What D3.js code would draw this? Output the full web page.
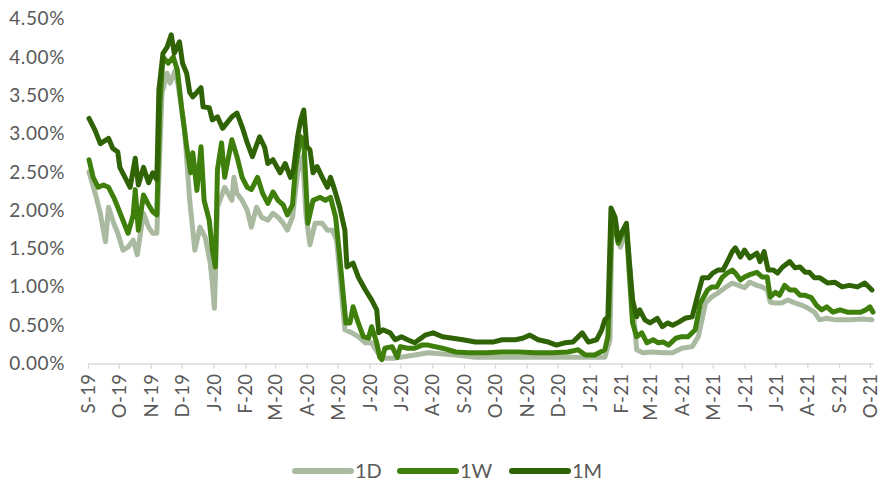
<!DOCTYPE html>
<html>
<head>
<meta charset="utf-8">
<script src="https://cdn.jsdelivr.net/npm/d3@7"></script>
<style>
  body { margin: 0; background: #fff; }
  svg text { font-family: Lato, "Open Sans", sans-serif; fill: #595959; }
</style>
</head>
<body>
<div id="chart"></div>
<script>

var seriesNames = ["1D", "1W", "1M"];
var seriesColors = ["#a9baa1", "#3f7f0c", "#2f6306"];

var tickLabels = ["S-19", "O-19", "N-19", "D-19", "J-20", "F-20", "M-20", "A-20", "M-20", "J-20", "J-20", "A-20",
    "S-20", "O-20", "N-20", "D-20", "J-21", "F-21", "M-21", "A-21", "M-21", "J-21", "J-21", "A-21", "S-21", "O-21"];
var tickStart = "2019-09-01";

var yTicks = [0, 0.5, 1, 1.5, 2, 2.5, 3, 3.5, 4, 4.5];

// values in %
var data1D = [
    ["2019-09-02", 2.50], ["2019-09-08", 2.22], ["2019-09-13", 1.96], ["2019-09-18", 1.59], ["2019-09-21", 2.04],
    ["2019-09-26", 1.83], ["2019-09-30", 1.70], ["2019-10-05", 1.48], ["2019-10-10", 1.52], ["2019-10-15", 1.61],
    ["2019-10-19", 1.42], ["2019-10-25", 1.96], ["2019-10-30", 1.78], ["2019-11-03", 1.70], ["2019-11-07", 1.70],
    ["2019-11-12", 3.53], ["2019-11-17", 3.79], ["2019-11-20", 3.66], ["2019-11-25", 3.83], ["2019-11-28", 3.61],
    ["2019-12-04", 3.05], ["2019-12-09", 2.13], ["2019-12-14", 1.48], ["2019-12-19", 1.78], ["2019-12-24", 1.65],
    ["2019-12-29", 1.31], ["2019-12-31", 1.05], ["2020-01-02", 0.72], ["2020-01-05", 2.04], ["2020-01-12", 2.30],
    ["2020-01-19", 2.13], ["2020-01-21", 2.43], ["2020-01-24", 2.22], ["2020-01-29", 2.13], ["2020-02-03", 2.00],
    ["2020-02-07", 1.78], ["2020-02-12", 2.04], ["2020-02-17", 1.91], ["2020-02-23", 1.87], ["2020-02-28", 1.96],
    ["2020-03-04", 1.91], ["2020-03-09", 1.83], ["2020-03-13", 1.74], ["2020-03-18", 1.91], ["2020-03-23", 2.49],
    ["2020-03-28", 2.70], ["2020-03-31", 1.96], ["2020-04-04", 1.55], ["2020-04-09", 1.83], ["2020-04-16", 1.83],
    ["2020-04-21", 1.74], ["2020-04-26", 1.74], ["2020-04-30", 1.61], ["2020-05-03", 1.18], ["2020-05-08", 0.44],
    ["2020-05-15", 0.40], ["2020-05-21", 0.35], ["2020-05-28", 0.27], ["2020-06-03", 0.27], ["2020-06-09", 0.14],
    ["2020-06-13", 0.07], ["2020-06-26", 0.07], ["2020-07-15", 0.11], ["2020-07-28", 0.14], ["2020-08-24", 0.11],
    ["2020-09-12", 0.08], ["2020-10-14", 0.08], ["2020-11-16", 0.08], ["2020-12-18", 0.08], ["2021-01-06", 0.08],
    ["2021-01-16", 0.08], ["2021-01-21", 0.31], ["2021-01-23", 1.87], ["2021-01-26", 1.74], ["2021-01-31", 1.52],
    ["2021-02-04", 1.65], ["2021-02-07", 1.61], ["2021-02-11", 0.96], ["2021-02-16", 0.18], ["2021-02-22", 0.14],
    ["2021-03-03", 0.15], ["2021-03-13", 0.14], ["2021-03-23", 0.14], ["2021-04-01", 0.20], ["2021-04-11", 0.22],
    ["2021-04-17", 0.35], ["2021-04-24", 0.79], ["2021-04-30", 0.87], ["2021-05-06", 0.92], ["2021-05-13", 0.99],
    ["2021-05-20", 1.05], ["2021-05-26", 1.02], ["2021-06-01", 0.99], ["2021-06-06", 1.06], ["2021-06-13", 1.02],
    ["2021-06-18", 1.00], ["2021-06-23", 0.96], ["2021-06-26", 0.80], ["2021-07-01", 0.79], ["2021-07-07", 0.79],
    ["2021-07-13", 0.83], ["2021-07-20", 0.79], ["2021-07-27", 0.76], ["2021-08-02", 0.72], ["2021-08-08", 0.67],
    ["2021-08-13", 0.57], ["2021-08-20", 0.59], ["2021-08-28", 0.57], ["2021-09-04", 0.57], ["2021-09-13", 0.57],
    ["2021-09-23", 0.58], ["2021-10-03", 0.57]
];

var data1W = [
    ["2019-09-02", 2.66], ["2019-09-06", 2.43], ["2019-09-11", 2.30], ["2019-09-16", 2.33], ["2019-09-21", 2.30],
    ["2019-09-26", 2.17], ["2019-09-30", 2.04], ["2019-10-05", 1.87], ["2019-10-10", 1.70], ["2019-10-15", 1.94],
    ["2019-10-17", 2.27], ["2019-10-20", 1.74], ["2019-10-25", 2.20], ["2019-10-30", 2.07], ["2019-11-03", 1.98],
    ["2019-11-07", 1.94], ["2019-11-10", 3.40], ["2019-11-13", 4.00], ["2019-11-18", 3.92], ["2019-11-23", 4.00],
    ["2019-11-27", 3.83], ["2019-12-01", 3.35], ["2019-12-06", 2.83], ["2019-12-10", 2.49], ["2019-12-12", 2.75],
    ["2019-12-16", 2.26], ["2019-12-20", 2.83], ["2019-12-23", 2.13], ["2019-12-28", 1.87], ["2019-12-31", 1.48],
    ["2020-01-03", 1.26], ["2020-01-05", 2.53], ["2020-01-09", 2.88], ["2020-01-12", 2.43], ["2020-01-19", 2.92],
    ["2020-01-24", 2.70], ["2020-01-29", 2.43], ["2020-02-03", 2.30], ["2020-02-07", 2.27], ["2020-02-13", 2.43],
    ["2020-02-18", 2.22], ["2020-02-23", 2.09], ["2020-02-28", 2.24], ["2020-03-04", 2.13], ["2020-03-09", 2.07],
    ["2020-03-13", 1.94], ["2020-03-18", 2.07], ["2020-03-21", 2.56], ["2020-03-26", 2.96], ["2020-03-29", 2.92],
    ["2020-04-02", 1.83], ["2020-04-07", 2.13], ["2020-04-14", 2.17], ["2020-04-19", 2.13], ["2020-04-24", 2.17],
    ["2020-04-29", 1.91], ["2020-05-03", 1.39], ["2020-05-06", 0.96], ["2020-05-09", 0.53], ["2020-05-13", 0.53],
    ["2020-05-16", 0.74], ["2020-05-21", 0.53], ["2020-05-26", 0.35], ["2020-05-31", 0.33], ["2020-06-03", 0.48],
    ["2020-06-08", 0.27], ["2020-06-11", 0.08], ["2020-06-13", 0.05], ["2020-06-16", 0.20], ["2020-06-23", 0.22],
    ["2020-06-28", 0.08], ["2020-07-01", 0.22], ["2020-07-08", 0.20], ["2020-07-15", 0.20], ["2020-07-22", 0.24],
    ["2020-07-28", 0.24], ["2020-08-11", 0.20], ["2020-08-24", 0.15], ["2020-09-05", 0.14], ["2020-09-22", 0.14],
    ["2020-10-08", 0.15], ["2020-10-24", 0.15], ["2020-11-09", 0.14], ["2020-11-26", 0.14], ["2020-12-11", 0.15],
    ["2020-12-21", 0.18], ["2020-12-28", 0.11], ["2021-01-06", 0.11], ["2021-01-16", 0.18], ["2021-01-19", 0.35],
    ["2021-01-23", 1.91], ["2021-01-26", 1.78], ["2021-01-29", 1.57], ["2021-02-02", 1.70], ["2021-02-06", 1.78],
    ["2021-02-09", 1.13], ["2021-02-12", 0.53], ["2021-02-16", 0.35], ["2021-02-21", 0.40], ["2021-02-26", 0.27],
    ["2021-03-04", 0.31], ["2021-03-09", 0.27], ["2021-03-14", 0.28], ["2021-03-19", 0.24], ["2021-03-26", 0.33],
    ["2021-04-01", 0.35], ["2021-04-07", 0.35], ["2021-04-14", 0.44], ["2021-04-19", 0.79], ["2021-04-26", 0.96],
    ["2021-04-30", 1.00], ["2021-05-05", 1.00], ["2021-05-10", 1.12], ["2021-05-15", 1.18], ["2021-05-20", 1.22],
    ["2021-05-23", 1.18], ["2021-05-28", 1.09], ["2021-06-01", 1.13], ["2021-06-06", 1.16], ["2021-06-13", 1.19],
    ["2021-06-18", 1.13], ["2021-06-23", 1.13], ["2021-06-26", 0.87], ["2021-07-01", 0.93], ["2021-07-05", 0.89],
    ["2021-07-10", 1.02], ["2021-07-15", 0.96], ["2021-07-20", 0.96], ["2021-07-25", 0.89], ["2021-07-30", 0.89],
    ["2021-08-05", 0.86], ["2021-08-10", 0.76], ["2021-08-15", 0.70], ["2021-08-20", 0.74], ["2021-08-26", 0.67],
    ["2021-09-02", 0.70], ["2021-09-09", 0.67], ["2021-09-15", 0.67], ["2021-09-22", 0.67], ["2021-09-27", 0.70],
    ["2021-10-01", 0.74], ["2021-10-04", 0.67]
];

var data1M = [
    ["2019-09-02", 3.20], ["2019-09-08", 3.04], ["2019-09-13", 2.87], ["2019-09-21", 2.94], ["2019-09-25", 2.81],
    ["2019-09-30", 2.76], ["2019-10-02", 2.56], ["2019-10-07", 2.43], ["2019-10-12", 2.30], ["2019-10-17", 2.68],
    ["2019-10-20", 2.33], ["2019-10-25", 2.56], ["2019-10-30", 2.36], ["2019-11-03", 2.49], ["2019-11-07", 2.40],
    ["2019-11-09", 3.57], ["2019-11-13", 4.05], ["2019-11-17", 4.13], ["2019-11-21", 4.29], ["2019-11-24", 4.05],
    ["2019-11-29", 4.20], ["2019-12-02", 3.92], ["2019-12-06", 3.79], ["2019-12-09", 3.54], ["2019-12-12", 3.48],
    ["2019-12-20", 3.60], ["2019-12-22", 3.35], ["2019-12-28", 3.34], ["2019-12-31", 3.18], ["2020-01-05", 3.22],
    ["2020-01-10", 3.07], ["2020-01-19", 3.22], ["2020-01-24", 3.27], ["2020-01-29", 3.09], ["2020-02-03", 2.88],
    ["2020-02-08", 2.70], ["2020-02-15", 2.96], ["2020-02-20", 2.82], ["2020-02-23", 2.61], ["2020-02-28", 2.66],
    ["2020-03-06", 2.49], ["2020-03-11", 2.61], ["2020-03-16", 2.43], ["2020-03-19", 2.53], ["2020-03-23", 2.96],
    ["2020-03-26", 3.18], ["2020-03-29", 3.31], ["2020-04-01", 2.83], ["2020-04-04", 2.79], ["2020-04-07", 2.49],
    ["2020-04-11", 2.57], ["2020-04-16", 2.43], ["2020-04-21", 2.30], ["2020-04-24", 2.43], ["2020-04-28", 2.27],
    ["2020-05-03", 2.04], ["2020-05-08", 1.74], ["2020-05-10", 1.26], ["2020-05-16", 1.31], ["2020-05-21", 1.13],
    ["2020-05-28", 0.96], ["2020-06-03", 0.83], ["2020-06-08", 0.70], ["2020-06-10", 0.40], ["2020-06-14", 0.44],
    ["2020-06-21", 0.40], ["2020-06-26", 0.31], ["2020-07-02", 0.35], ["2020-07-08", 0.31], ["2020-07-15", 0.27],
    ["2020-07-25", 0.37], ["2020-08-02", 0.40], ["2020-08-11", 0.35], ["2020-08-21", 0.33], ["2020-08-31", 0.31],
    ["2020-09-12", 0.28], ["2020-09-29", 0.28], ["2020-10-08", 0.31], ["2020-10-21", 0.31], ["2020-10-28", 0.33],
    ["2020-11-04", 0.37], ["2020-11-12", 0.31], ["2020-11-22", 0.28], ["2020-11-30", 0.24], ["2020-12-08", 0.27],
    ["2020-12-16", 0.28], ["2020-12-25", 0.40], ["2020-12-31", 0.28], ["2021-01-08", 0.31], ["2021-01-13", 0.44],
    ["2021-01-16", 0.57], ["2021-01-19", 0.61], ["2021-01-22", 2.03], ["2021-01-26", 1.91], ["2021-01-29", 1.61],
    ["2021-02-01", 1.70], ["2021-02-06", 1.83], ["2021-02-09", 1.31], ["2021-02-12", 0.83], ["2021-02-16", 0.61],
    ["2021-02-19", 0.70], ["2021-02-24", 0.57], ["2021-03-01", 0.53], ["2021-03-08", 0.59], ["2021-03-13", 0.48],
    ["2021-03-18", 0.53], ["2021-03-23", 0.50], ["2021-03-29", 0.54], ["2021-04-04", 0.59], ["2021-04-11", 0.61],
    ["2021-04-16", 0.87], ["2021-04-21", 1.12], ["2021-04-27", 1.12], ["2021-05-01", 1.18], ["2021-05-06", 1.22],
    ["2021-05-11", 1.22], ["2021-05-16", 1.35], ["2021-05-20", 1.46], ["2021-05-23", 1.51], ["2021-05-28", 1.39],
    ["2021-06-01", 1.48], ["2021-06-06", 1.38], ["2021-06-13", 1.44], ["2021-06-16", 1.33], ["2021-06-20", 1.46],
    ["2021-06-24", 1.22], ["2021-06-29", 1.22], ["2021-07-03", 1.18], ["2021-07-08", 1.26], ["2021-07-15", 1.33],
    ["2021-07-20", 1.25], ["2021-07-25", 1.26], ["2021-07-30", 1.19], ["2021-08-03", 1.19], ["2021-08-08", 1.12],
    ["2021-08-13", 1.12], ["2021-08-21", 1.05], ["2021-08-28", 1.06], ["2021-09-04", 1.00], ["2021-09-11", 1.02],
    ["2021-09-19", 1.00], ["2021-09-26", 1.05], ["2021-10-03", 0.96]
];

var allSeries = [data1D, data1W, data1M];


RateChart = function(container){

    var self = this;

    this.container = container;
    this.parse = d3.timeParse("%Y-%m-%d");

    this.config = {
        full_width: 881,
        full_height: 483,
        plot_left: 88,
        plot_right: 873,
        plot_top: 18.8,
        plot_bottom: 363.5,
        x_end: "2021-10-04"
    };

    this._init();

};

RateChart.prototype._init = function(){

    this._build_graph();
    this._draw_x_axis();
    this._draw_y_axis();
    this._draw_lines();
    this._draw_legend();

};

RateChart.prototype._build_graph = function(){

    var c = this.config;

    this._svg = d3.select(this.container)
        .append("svg")
        .attr("width", c.full_width)
        .attr("height", c.full_height);

    this.x = d3.scaleTime()
        .domain([this.parse(tickStart), this.parse(c.x_end)])
        .range([c.plot_left, c.plot_right]);

    this.y = d3.scaleLinear()
        .domain([0, 4.5])
        .range([c.plot_bottom, c.plot_top]);

};

RateChart.prototype._draw_x_axis = function(){

    var self = this;
    var start = this.parse(tickStart);
    var tickDates = tickLabels.map(function(d, i){ return d3.timeMonth.offset(start, i); });

    var axis = d3.axisBottom(this.x)
        .tickValues(tickDates)
        .tickSize(5)
        .tickSizeOuter(0)
        .tickFormat(function(d, i){ return tickLabels[i]; });

    var g = this._svg.append("g")
        .attr("transform", "translate(0," + this.config.plot_bottom + ")")
        .call(axis);

    g.select(".domain").attr("stroke", "#d9d9d9").attr("stroke-width", 1.3);
    g.selectAll(".tick line").attr("stroke", "#d9d9d9").attr("stroke-width", 1.3);

    g.selectAll(".tick text")
        .attr("transform", "rotate(-90)")
        .attr("text-anchor", "end")
        .attr("x", -10)
        .attr("y", 0)
        .attr("dy", "0.36em")
        .style("font-size", "18.5px")
        .style("letter-spacing", "0.4px")
        .style("fill", "#595959");

};

RateChart.prototype._draw_y_axis = function(){

    var fmt = d3.format(".2f");

    var axis = d3.axisLeft(this.y)
        .tickValues(yTicks)
        .tickSize(0)
        .tickPadding(0)
        .tickFormat(function(d){ return fmt(d) + "%"; });

    var g = this._svg.append("g")
        .attr("transform", "translate(65,0)")
        .call(axis);

    g.select(".domain").remove();
    g.selectAll(".tick text")
        .style("font-size", "19px")
        .style("letter-spacing", "0.6px")
        .style("fill", "#595959");

};

RateChart.prototype._draw_lines = function(){

    var self = this;

    var line = d3.line()
        .x(function(d){ return self.x(self.parse(d[0])); })
        .y(function(d){ return self.y(d[1]); });

    this._svg.append("g")
        .selectAll("path")
        .data(allSeries)
        .join("path")
        .attr("d", line)
        .attr("fill", "none")
        .attr("stroke", function(d, i){ return seriesColors[i]; })
        .attr("stroke-width", 5)
        .attr("stroke-linejoin", "round")
        .attr("stroke-linecap", "round");

};

RateChart.prototype._draw_legend = function(){

    var legendX = [295, 400, 512];
    var legendY = 471;

    var items = this._svg.append("g")
        .selectAll("g")
        .data(seriesNames)
        .join("g")
        .attr("transform", function(d, i){ return "translate(" + legendX[i] + "," + legendY + ")"; });

    items.append("line")
        .attr("x1", 0)
        .attr("x2", 56)
        .attr("stroke", function(d, i){ return seriesColors[i]; })
        .attr("stroke-width", 6)
        .attr("stroke-linecap", "round");

    items.append("text")
        .attr("x", 60)
        .attr("dy", "0.36em")
        .style("font-size", "20px")
        .text(function(d){ return d; });

};

new RateChart("#chart");

</script>
</body>
</html>
